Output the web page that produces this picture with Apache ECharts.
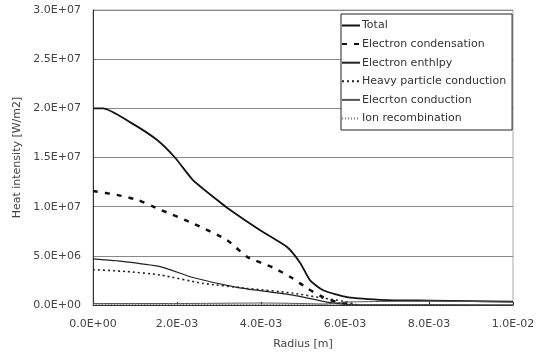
<!DOCTYPE html>
<html><head><meta charset="utf-8">
<script src="https://cdn.jsdelivr.net/npm/echarts@6/dist/echarts.min.js"></script>
<style>html,body{margin:0;padding:0;background:#fff}#c{width:541px;height:357px}</style>
</head><body><div id="c"></div>
<script>
// Radius [m] and heat intensity [W/m2]
var totalR = [0, 0.00024, 0.00088, 0.00152, 0.00195, 0.00238, 0.00295, 0.00319, 0.00398, 0.00462, 0.00493, 0.00517, 0.00548, 0.00605, 0.0070, 0.0080, 0.0090, 0.0100];
var totalQ = [2.0e7, 2.0e7, 1.86e7, 1.68e7, 1.5e7, 1.27e7, 1.07e7, 9.9e6, 7.6e6, 5.9e6, 4.3e6, 2.5e6, 1.5e6, 8e5, 5e5, 4.5e5, 4e5, 3.5e5];
var condR = [0, 0.00057, 0.00105, 0.0016, 0.00238, 0.00319, 0.00367, 0.00429, 0.00476, 0.0051, 0.00548, 0.00581, 0.0062];
var condQ = [1.16e7, 1.12e7, 1.07e7, 9.7e6, 8.3e6, 6.6e6, 4.9e6, 3.8e6, 2.7e6, 1.7e6, 8e5, 3e5, 0];
var enthR = [0, 0.00057, 0.0016, 0.00238, 0.00343, 0.00476, 0.00557, 0.0062, 0.0100];
var enthQ = [4.7e6, 4.5e6, 3.9e6, 2.8e6, 1.8e6, 1.0e6, 3e5, 5e4, 0];
var heavyR = [0, 0.00081, 0.0016, 0.00262, 0.00367, 0.00476, 0.00548, 0.00595, 0.0063];
var heavyQ = [3.6e6, 3.4e6, 3.05e6, 2.2e6, 1.7e6, 1.2e6, 7e5, 4e5, 0];
var econdR = [0, 0.002, 0.004, 0.005, 0.0055, 0.006, 0.008, 0.0100];
var econdQ = [1.5e5, 1.5e5, 2e5, 1.5e5, 1e5, 3e5, 4e5, 3e5];
var ionR = [0, 0.004, 0.006, 0.0100];
var ionQ = [5e4, 5e4, 2e4, 0];
var names = ['Total', 'Electron condensation', 'Electron enthlpy', 'Heavy particle conduction', 'Elecrton conduction', 'Ion recombination'];

function zip(a, b) { return a.map(function (v, i) { return [v, b[i]]; }); }
function sci(v) {
  if (Math.abs(v) < 1e-20) return '0.0E+00';
  var e = Math.floor(Math.log10(Math.abs(v)) + 1e-9);
  var m = v / Math.pow(10, e);
  var ae = Math.abs(e);
  return m.toFixed(1) + 'E' + (e < 0 ? '-' : '+') + (ae < 10 ? '0' : '') + ae;
}
var font = 'DejaVu Sans';
var txt = '#444';
function ser(name, r, q, style) {
  return { name: name, type: 'line', data: zip(r, q), symbol: 'none', smooth: 0.2, lineStyle: style, itemStyle: { color: style.color } };
}
var chart = echarts.init(document.getElementById('c'));
chart.setOption({
  animation: false,
  backgroundColor: '#fff',
  grid: { left: 93, right: 28, top: 10, bottom: 52, show: true, borderColor: '#aaa', borderWidth: 1 },
  legend: {
    orient: 'vertical', left: 341, top: 14, width: 170,
    backgroundColor: '#fff', borderColor: '#222', borderWidth: 1, borderRadius: 0,
    padding: [6, 6, 6, 0], itemWidth: 18, itemHeight: 10, itemGap: 7.6,
    itemStyle: { opacity: 0 },
    textStyle: { fontFamily: font, fontSize: 11, color: '#333', padding: [0, 0, 0, -3] },
    data: names
  },
  xAxis: {
    type: 'value', min: 0, max: 0.01, interval: 0.002,
    name: 'Radius [m]', nameLocation: 'middle', nameGap: 34,
    nameTextStyle: { fontFamily: font, fontSize: 11, color: txt },
    axisLine: { show: true, lineStyle: { color: '#333' } },
    axisTick: { show: true, inside: true, length: 3, lineStyle: { color: '#333' } },
    axisLabel: { formatter: sci, fontFamily: font, fontSize: 11, color: txt, margin: 14 },
    splitLine: { show: false }
  },
  yAxis: {
    type: 'value', min: 0, max: 3e7, interval: 5e6,
    name: 'Heat intensity [W/m2]', nameLocation: 'middle', nameGap: 70,
    nameTextStyle: { fontFamily: font, fontSize: 11, color: txt },
    axisLine: { show: true, lineStyle: { color: '#333' } },
    axisTick: { show: false },
    axisLabel: { formatter: sci, fontFamily: font, fontSize: 11, color: txt, margin: 12 },
    splitLine: { show: true, lineStyle: { color: '#888', width: 1 } }
  },
  series: [
    ser(names[0], totalR, totalQ, { color: '#111', width: 1.8, type: 'solid' }),
    ser(names[1], condR, condQ, { color: '#111', width: 2.5, type: [5, 7] }),
    ser(names[2], enthR, enthQ, { color: '#222', width: 1.2, type: 'solid' }),
    ser(names[3], heavyR, heavyQ, { color: '#222', width: 1.6, type: [2, 3] }),
    ser(names[4], econdR, econdQ, { color: '#555', width: 1, type: 'solid' }),
    ser(names[5], ionR, ionQ, { color: '#777', width: 1, type: [1, 2] })
  ]
});
</script></body></html>
